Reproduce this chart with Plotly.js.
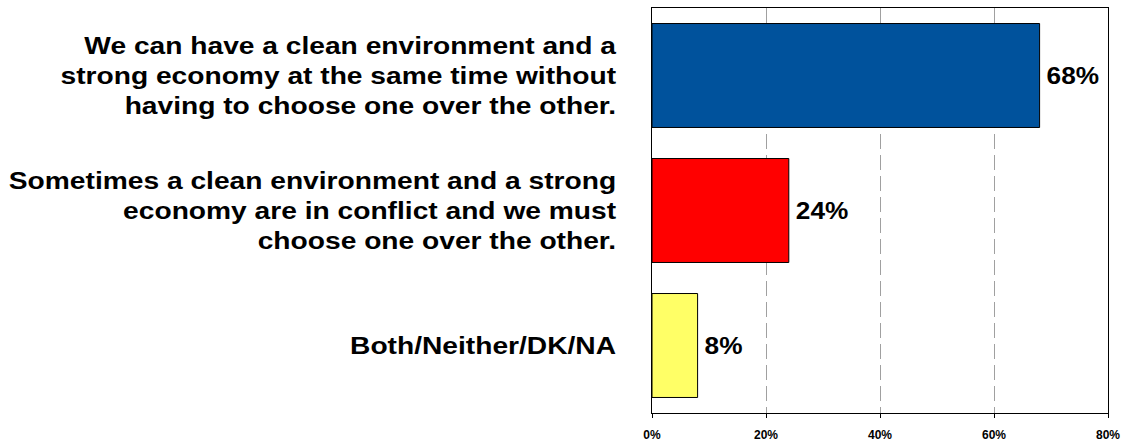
<!DOCTYPE html>
<html>
<head>
<meta charset="utf-8">
<script src="https://cdn.plot.ly/plotly-3.0.1.min.js"></script>
<style>
html,body{margin:0;padding:0;background:#fff;}
#chart{width:1127px;height:444px;}
</style>
</head>
<body>
<div id="chart"></div>
<script>
const categories = [
  "We can have a clean environment and a<br>strong economy at the same time without<br>having to choose one over the other.",
  "Sometimes a clean environment and a strong<br>economy are in conflict and we must<br>choose one over the other.",
  "Both/Neither/DK/NA"
];
const values = [68, 24, 8];
const valueLabels = ["68%", "24%", "8%"];
const barColors = ["#00529C", "#FF0000", "#FFFF66"];
const xTickVals = [0, 20, 40, 60, 80];
const xTickText = ["0%", "20%", "40%", "60%", "80%"];

const FONT = "Liberation Sans, Arial, Helvetica, sans-serif";

const trace = {
  type: "bar",
  orientation: "h",
  x: values,
  y: categories,
  text: valueLabels,
  textposition: "outside",
  cliponaxis: false,
  textfont: {family: FONT, size: 24.5, color: "#000", weight: "bold"},
  marker: {color: barColors, line: {color: "#000", width: 1}},
  hoverinfo: "skip"
};

const layout = {
  width: 1127,
  height: 444,
  margin: {l: 652, r: 19, t: 8, b: 31},
  paper_bgcolor: "#fff",
  plot_bgcolor: "#fff",
  showlegend: false,
  bargap: 0.23,
  font: {family: FONT, color: "#000"},
  xaxis: {
    range: [0, 80],
    tickvals: xTickVals,
    ticktext: xTickText,
    tickfont: {family: FONT, size: 12, color: "#000", weight: "bold"},
    ticks: "outside",
    ticklen: 4,
    tickcolor: "#000",
    ticklabelstandoff: 7,
    showline: true,
    linecolor: "#000",
    linewidth: 1,
    mirror: true,
    showgrid: true,
    gridcolor: "#A0A0A0",
    gridwidth: 1,
    griddash: "15px,6px",
    zeroline: false,
    fixedrange: true
  },
  yaxis: {
    autorange: "reversed",
    tickfont: {family: FONT, size: 24.5, color: "#000", weight: "bold"},
    ticks: "",
    ticklabelstandoff: 30,
    showline: true,
    linecolor: "#000",
    linewidth: 1,
    mirror: true,
    showgrid: false,
    zeroline: false,
    fixedrange: true
  }
};

// Cosmetic: tighter line spacing and slight horizontal widening of text,
// as in the original (text drawn wider than plain Arial Bold).
function stretchText(el, sx, anchorRight, dx) {
  const bb = el.getBBox();
  const ax = anchorRight ? bb.x + bb.width : bb.x;
  const t = el.getAttribute("transform") || "";
  el.setAttribute("transform",
    (dx ? "translate(" + dx + ",0) " : "") + t +
    " translate(" + ax + ",0) scale(" + sx + ",1) translate(" + (-ax) + ",0)");
}

Plotly.newPlot("chart", [trace], layout, {displayModeBar: false, staticPlot: true}).then(function (gd) {
  const LS = 1.22;
  gd.querySelectorAll(".ytick text").forEach(function (txt) {
    const lines = txt.querySelectorAll("tspan.line");
    const n = lines.length;
    if (n > 1) {
      lines.forEach(function (ts, k) {
        const dy = (k - (n - 1) / 2) * LS + (n - 1) / 2 * 1.3;
        ts.setAttribute("dy", dy + "em");
      });
    }
    stretchText(txt, 1.15, true, 0);
  });
  gd.querySelectorAll("text.bartext").forEach(function (txt) {
    stretchText(txt, 1.07, false, 4);
  });
});
</script>
</body>
</html>
